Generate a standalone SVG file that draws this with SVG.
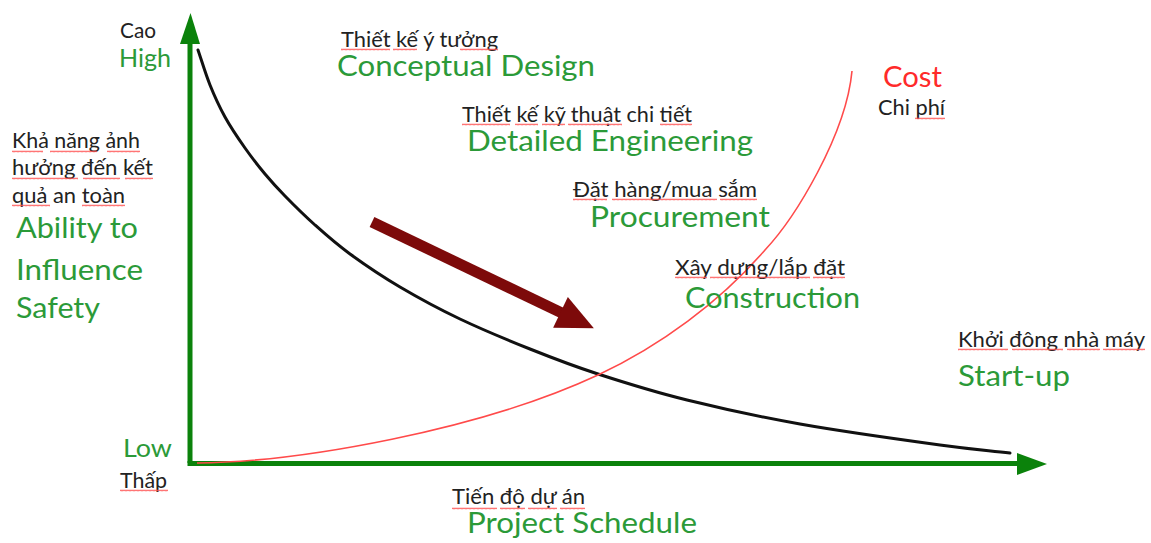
<svg xmlns="http://www.w3.org/2000/svg" width="1151" height="543" viewBox="0 0 1151 543">
  <style>
    text { font-family: Lato, "Open Sans", "Liberation Sans", sans-serif; }
    .vi { font-size: 21px; fill: #222222; }
    .en { font-size: 29px; fill: #2b9a38; }
    .lv { font-size: 25px; fill: #2b9a38; }
    .cost { font-size: 29px; fill: #ff2a2a; }
    .axis { stroke: #0b820b; stroke-width: 5; fill: none; }
    .head { fill: #0b820b; }
    .safety { stroke: #111111; stroke-width: 3; fill: none; stroke-linecap: round; }
    .costline { stroke: #ff4a4a; stroke-width: 1.6; fill: none; }
    .sq { fill: url(#wave); }
  </style>
  <defs>
    <!-- spell-check style wavy underline -->
    <pattern id="wave" patternUnits="userSpaceOnUse" x="0" y="0" width="4" height="3">
      <path d="M0,2.3 L1,0.7 L2,2.3 L3,0.7 L4,2.3" stroke="#ff5050" stroke-width="0.8" fill="none"/>
    </pattern>
  </defs>

  <rect width="1151" height="543" fill="#ffffff"/>

  <!-- axes -->
  <g id="axes">
    <path class="axis" d="M190,463 L190,42"/>
    <polygon class="head" points="180,44 190.5,13 200,44"/>
    <path class="axis" d="M187.5,463.5 L1019,463.5"/>
    <polygon class="head" points="1017,453 1047,464 1017,475"/>
  </g>

  <!-- curves -->
  <g id="connectors">
    <path id="safety-curve" class="safety" d="M198,50 C202,61.7 205.5,73.8 210,85 C214.5,96.2 219.2,106.5 225,117 C230.8,127.5 238.3,138.5 245,148 C251.7,157.5 258.3,166 265,174 C271.7,182 276.7,187.5 285,196 C293.3,204.5 304.2,215.3 315,225 C325.8,234.7 335.8,243.7 350,254 C364.2,264.3 381.7,276.2 400,287 C418.3,297.8 438.3,308.7 460,319 C481.7,329.3 507,339.8 530,349 C553,358.2 571.8,365.5 598,374 C624.2,382.5 653.3,391.7 687,400 C720.7,408.3 757.8,416.5 800,424 C842.2,431.5 905,440.2 940,445 C975,449.8 986.7,450.3 1010,453"/>
    <path id="cost-curve" class="costline" d="M197,463 C300,462 480,430 598,375 C660,346 720,302 765,250 C795,218 846,135 852,71"/>
    <g id="trend-arrow" transform="translate(372,222) rotate(25.6)">
      <rect x="0" y="-5.5" width="212" height="11" fill="#7d0a0a"/>
      <polygon points="209,-17 246,0 209,17" fill="#7d0a0a"/>
    </g>
  </g>

  <!-- vertical axis labels -->
  <g id="label-high">
    <text class="vi" x="120" y="38" textLength="36" lengthAdjust="spacingAndGlyphs">Cao</text>
    <text class="lv" x="119" y="67" textLength="52" lengthAdjust="spacingAndGlyphs">High</text>
  </g>
  <g id="label-low">
    <text class="lv" x="123" y="457" textLength="49" lengthAdjust="spacingAndGlyphs">Low</text>
    <text class="vi" x="120" y="488" textLength="47" lengthAdjust="spacingAndGlyphs">Thấp</text>
  </g>
  <g id="label-ability">
    <text class="vi" x="12" y="148" textLength="128" lengthAdjust="spacingAndGlyphs">Khả năng ảnh</text>
    <text class="vi" x="12" y="175" textLength="141" lengthAdjust="spacingAndGlyphs">hưởng đến kết</text>
    <text class="vi" x="12" y="203" textLength="113" lengthAdjust="spacingAndGlyphs">quả an toàn</text>
    <text class="en" x="16" y="238" textLength="122" lengthAdjust="spacingAndGlyphs">Ability to</text>
    <text class="en" x="16" y="280" textLength="127" lengthAdjust="spacingAndGlyphs">Influence</text>
    <text class="en" x="16" y="318" textLength="84" lengthAdjust="spacingAndGlyphs">Safety</text>
  </g>

  <!-- project phases -->
  <g id="phase-conceptual">
    <text class="vi" x="341" y="47" textLength="157" lengthAdjust="spacingAndGlyphs">Thiết kế ý tưởng</text>
    <text class="en" x="337" y="76" textLength="258" lengthAdjust="spacingAndGlyphs">Conceptual Design</text>
  </g>
  <g id="phase-detailed">
    <text class="vi" x="462" y="122" textLength="230" lengthAdjust="spacingAndGlyphs">Thiết kế kỹ thuật chi tiết</text>
    <text class="en" x="467" y="151" textLength="286" lengthAdjust="spacingAndGlyphs">Detailed Engineering</text>
  </g>
  <g id="phase-procurement">
    <text class="vi" x="573" y="197" textLength="184" lengthAdjust="spacingAndGlyphs">Đặt hàng/mua sắm</text>
    <text class="en" x="590" y="227" textLength="180" lengthAdjust="spacingAndGlyphs">Procurement</text>
  </g>
  <g id="phase-construction">
    <text class="vi" x="675" y="275" textLength="170" lengthAdjust="spacingAndGlyphs">Xây dựng/lắp đặt</text>
    <text class="en" x="685" y="308" textLength="175" lengthAdjust="spacingAndGlyphs">Construction</text>
  </g>
  <g id="phase-startup">
    <text class="vi" x="958" y="347" textLength="187" lengthAdjust="spacingAndGlyphs">Khởi đông nhà máy</text>
    <text class="en" x="958" y="386" textLength="112" lengthAdjust="spacingAndGlyphs">Start-up</text>
  </g>
  <g id="label-cost">
    <text class="cost" x="883" y="87" textLength="59" lengthAdjust="spacingAndGlyphs">Cost</text>
    <text class="vi" x="878" y="115" textLength="67" lengthAdjust="spacingAndGlyphs">Chi phí</text>
  </g>
  <g id="label-schedule">
    <text class="vi" x="452" y="504" textLength="133" lengthAdjust="spacingAndGlyphs">Tiến độ dự án</text>
    <text class="en" x="467" y="533" textLength="230" lengthAdjust="spacingAndGlyphs">Project Schedule</text>
  </g>

  <!-- wavy underlines -->
  <g id="squiggles">
    <rect class="sq" x="12" y="150" width="31" height="3"/>
    <rect class="sq" x="50" y="150" width="47" height="3"/>
    <rect class="sq" x="107" y="150" width="33" height="3"/>
    <rect class="sq" x="12" y="177" width="66" height="3"/>
    <rect class="sq" x="83" y="177" width="37" height="3"/>
    <rect class="sq" x="125" y="177" width="28" height="3"/>
    <rect class="sq" x="12" y="204" width="38" height="3"/>
    <rect class="sq" x="82" y="204" width="43" height="3"/>
    <rect class="sq" x="120" y="489" width="48" height="3"/>
    <rect class="sq" x="341" y="48" width="49" height="3"/>
    <rect class="sq" x="393" y="48" width="24" height="3"/>
    <rect class="sq" x="460" y="48" width="38" height="3"/>
    <rect class="sq" x="462" y="123" width="48" height="3"/>
    <rect class="sq" x="515" y="123" width="23" height="3"/>
    <rect class="sq" x="542" y="123" width="23" height="3"/>
    <rect class="sq" x="568" y="123" width="54" height="3"/>
    <rect class="sq" x="660" y="123" width="32" height="3"/>
    <rect class="sq" x="573" y="198" width="34" height="3"/>
    <rect class="sq" x="612" y="198" width="105" height="3"/>
    <rect class="sq" x="720" y="198" width="37" height="3"/>
    <rect class="sq" x="675" y="276" width="32" height="3"/>
    <rect class="sq" x="710" y="276" width="100" height="3"/>
    <rect class="sq" x="813" y="276" width="32" height="3"/>
    <rect class="sq" x="915" y="117" width="30" height="3"/>
    <rect class="sq" x="958" y="348" width="50" height="3"/>
    <rect class="sq" x="1012" y="348" width="51" height="3"/>
    <rect class="sq" x="1067" y="348" width="33" height="3"/>
    <rect class="sq" x="1103" y="348" width="42" height="3"/>
    <rect class="sq" x="452" y="507" width="45" height="3"/>
    <rect class="sq" x="500" y="507" width="25" height="3"/>
    <rect class="sq" x="528" y="507" width="29" height="3"/>
    <rect class="sq" x="560" y="507" width="25" height="3"/>
  </g>
</svg>
